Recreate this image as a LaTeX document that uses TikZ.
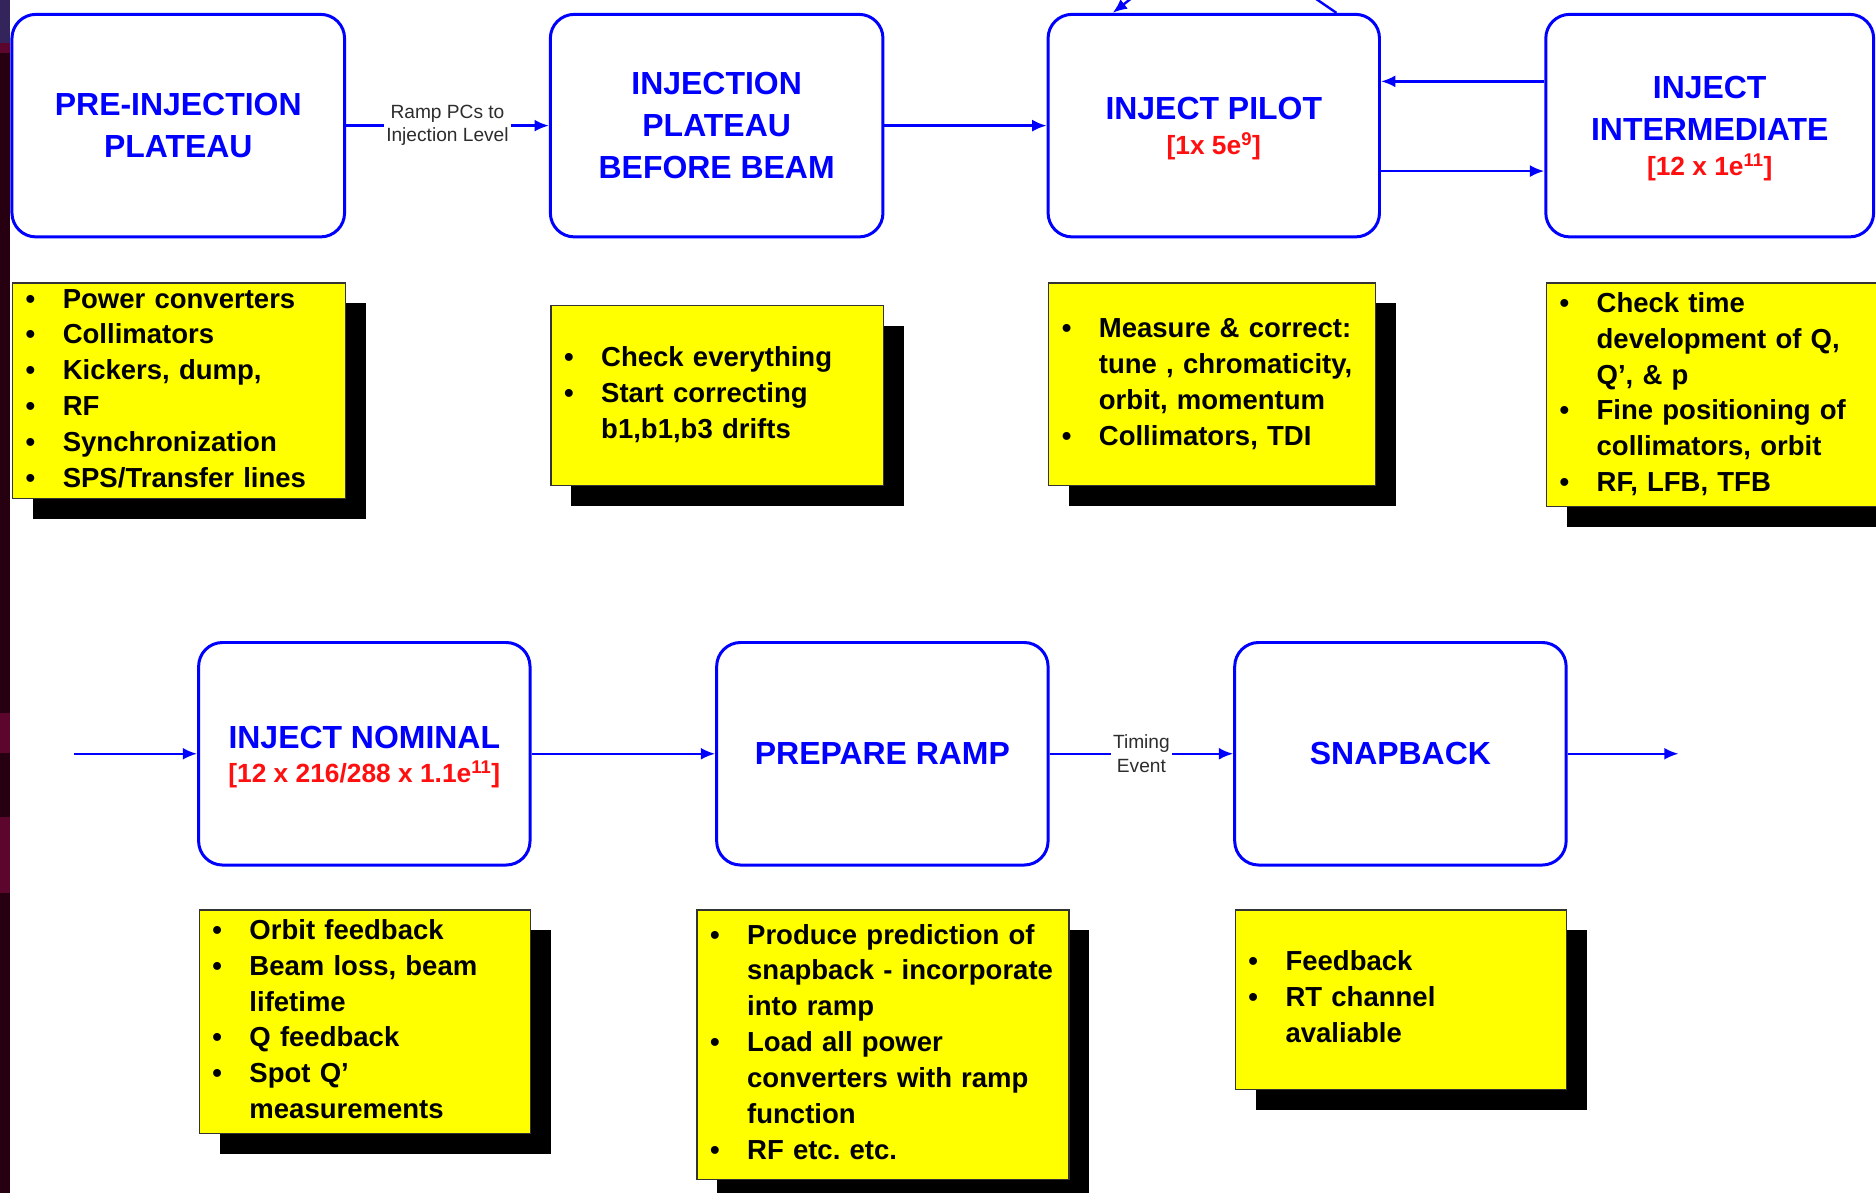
\documentclass[tikz,border=0pt]{standalone}
\usepackage{fontspec}
\setmainfont{Liberation Sans}
\usetikzlibrary{arrows.meta,shadows}
\frenchspacing
\definecolor{pblue}{RGB}{0,0,255}
\definecolor{pred}{RGB}{255,16,16}
\definecolor{pyel}{RGB}{255,255,0}
\definecolor{lblgray}{RGB}{45,45,45}
\definecolor{stripdark}{RGB}{38,0,16}
\definecolor{stripmid}{RGB}{92,6,46}
\definecolor{striptop}{RGB}{52,36,92}
\newcommand{\redq}[1]{{\fontsize{22}{29}\selectfont\color{pred}#1}}
\newcommand{\myb}[1]{\textbullet & #1\\}
\newcommand{\myc}[1]{ & #1\\}
\newcommand{\blist}[1]{\noindent\begin{tabular}{@{}p{31pt}@{}l@{}}#1\end{tabular}}
\newcommand{\lowstrut}{\rule{0pt}{24pt}}
\tikzset{
  stage/.style={draw=pblue, line width=2.5pt, rounded corners=20pt, fill=white,
    minimum width=277pt, minimum height=186pt, align=center, text=pblue,
    font=\fontsize{26.7}{35}\selectfont\bfseries},
  note/.style={draw=black!80, line width=1pt, fill=pyel, anchor=north west,
    inner xsep=11pt, inner ysep=0pt, font=\fontsize{23}{30}\selectfont\bfseries,
    general shadow={fill=black, draw=none, shadow xshift=17pt, shadow yshift=-17pt}},
  flow/.style={draw=pblue, line width=2pt, -{Latex[length=12pt,width=10pt]}},
  flowlbl/.style={fill=white, text=lblgray, font=\fontsize{16}{19.5}\selectfont,
    align=center, inner sep=2pt},
}
\begin{document}
\begin{tikzpicture}[x=1pt,y=-1pt]
\useasboundingbox (0,0) rectangle (1568,997);
\clip (0,0) rectangle (1568,997);
\fill[white] (0,0) rectangle (1568,997);
% left dark strip (background artefact)
\fill[stripdark] (0,0) rectangle (8.4,997);
\fill[striptop] (0,0) rectangle (8.4,36);
\fill[stripmid] (0,36) rectangle (8.4,44);
\fill[stripmid] (0,596) rectangle (8.4,629);
\fill[stripmid] (0,683) rectangle (8.4,746);

% stage boxes, top row
\node[stage, minimum width=278pt] (b1) at (149,105) {PRE-INJECTION\\PLATEAU};
\node[stage, minimum width=278pt] (b2) at (599,105) {INJECTION\\PLATEAU\\BEFORE BEAM};
\node[stage] (b3) at (1014.5,105) {\lowstrut INJECT PILOT\\[-6pt]\redq{[1x 5e\textsuperscript{9}]}};
\node[stage, minimum width=274pt] (b4) at (1429,105) {\lowstrut INJECT\\INTERMEDIATE\\[-6pt]\redq{[12 x 1e\textsuperscript{11}]}};
% stage boxes, bottom row
\node[stage] (b5) at (304.5,630) {\lowstrut INJECT NOMINAL\\[-6pt]\redq{[12 x 216/288 x 1.1e\textsuperscript{11}]}};
\node[stage] (b6) at (737.5,630) {PREPARE RAMP};
\node[stage] (b7) at (1170.5,630) {SNAPBACK};

% notes
\node[note, text width=256pt, minimum height=177pt] (y1) at (10,236) {\blist{%
\myb{Power converters}\myb{Collimators}\myb{Kickers, dump,}\myb{RF}\myb{Synchronization}\myb{SPS/Transfer lines}}};
\node[note, text width=256pt, minimum height=150pt] (y2) at (460,255) {\blist{%
\myb{Check everything}\myb{Start correcting}\myc{b1,b1,b3 drifts}}};
\node[note, text width=251pt, minimum height=169pt] (y3) at (876,236) {\blist{%
\myb{Measure \& correct:}\myc{tune , chromaticity,}\myc{orbit, momentum}\myb{Collimators, TDI}}};
\node[note, text width=266pt, minimum height=187pt] (y4) at (1292,236) {\blist{%
\myb{Check time}\myc{development of Q,}\myc{Q’, \& p}\myb{Fine positioning of}\myc{collimators, orbit}\myb{RF, LFB, TFB}}};
\node[note, text width=255pt, minimum height=187pt] (y5) at (166,760) {\blist{%
\myb{Orbit feedback}\myb{Beam loss, beam}\myc{lifetime}\myb{Q feedback}\myb{Spot Q’}\myc{measurements}}};
\node[note, text width=289pt, minimum height=225pt] (y6) at (582,760) {\blist{%
\myb{Produce prediction of}\myc{snapback - incorporate}\myc{into ramp}\myb{Load all power}\myc{converters with ramp}\myc{function}\myb{RF etc. etc.}}};
\node[note, text width=255pt, minimum height=150pt] (y7) at (1032,760) {\blist{%
\myb{Feedback}\myb{RT channel}\myc{avaliable}}};

% connectors, top row
\draw[flow] (b1.east) -- node[flowlbl] (l1) {Ramp PCs to\\Injection Level} (b2.west);
\draw[flow] (b2.east) -- (b3.west);
\draw[flow] ([yshift=37pt]b4.west) -- ([yshift=37pt]b3.east);
\draw[flow] ([yshift=-38pt]b3.east) -- ([yshift=-38pt]b4.west);
\coordinate (lpA) at (1075,-18);
\coordinate (lpB) at (967,-18);
\draw[flow] ([xshift=102.5pt]b3.north) -- (lpA) -- (lpB) -- ([xshift=-84.5pt]b3.north);

% connectors, bottom row
\coordinate (inL) at (62,630);
\coordinate (outR) at (1403,630);
\draw[flow] (inL) -- (inL -| b5.west);
\draw[flow] (b5.east) -- (b6.west);
\draw[flow] (b6.east) -- node[flowlbl] (l2) {Timing\\Event} (b7.west);
\draw[flow] (b7.east) -- (b7.east -| outR);
\end{tikzpicture}
\end{document}
